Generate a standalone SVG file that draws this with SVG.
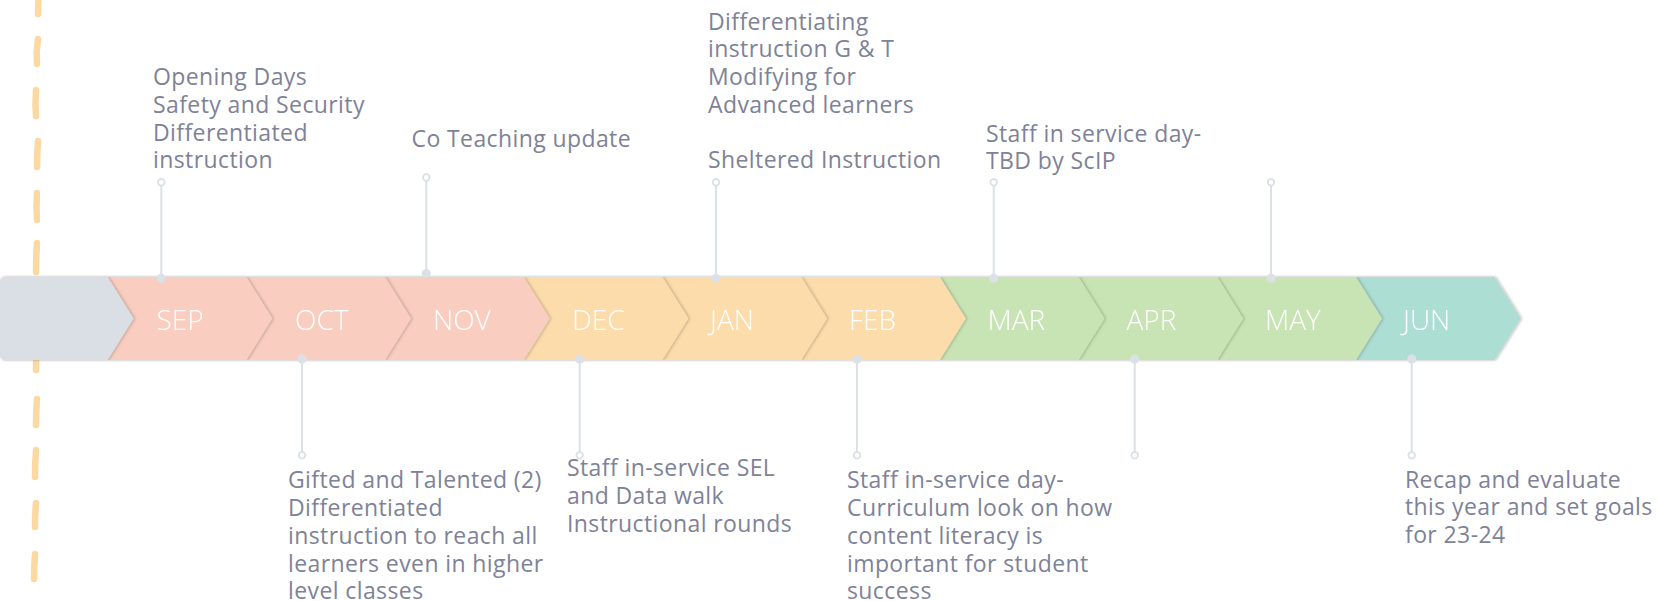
<svg xmlns="http://www.w3.org/2000/svg" width="1659" height="601" viewBox="0 0 1659 601">
<defs>
<filter id="sh" x="-10%" y="-20%" width="130%" height="140%"><feDropShadow dx="1.5" dy="0" stdDeviation="1.4" flood-color="#000" flood-opacity="0.22"/></filter>
<filter id="halo" x="-2%" y="-20%" width="104%" height="140%"><feDropShadow dx="0" dy="0" stdDeviation="1.2" flood-color="#000" flood-opacity="0.12"/></filter>
</defs>
<style>
.note{font-family:"Open Sans","Noto Sans",sans-serif;font-size:23px;letter-spacing:0.4px;fill:#7E8297}
.mon{font-family:"Open Sans","Noto Sans",sans-serif;font-size:28px;font-weight:300;fill:#FFFFFF}
.dash{fill:none;stroke:#FCD9A0;stroke-width:6.5;stroke-linecap:round}
.ln{stroke:#DCE0E7;stroke-width:2;fill:none}
.ring{fill:#FFFFFF;stroke:#DCE0E7;stroke-width:1.8}
.dot{fill:#DCE0E7}
.c0{fill:#D9DFE5}.c1{fill:#F9CEC0}.c2{fill:#FCDCAA}.c3{fill:#C9E4B4}.c4{fill:#ADDED3}
</style>
<g id="dashed-line">
<path class="dash" d="M39,-12 Q38,2 38,14"/>
<path class="dash" d="M38,39 Q36,52 37,64"/>
<path class="dash" d="M36,90 Q35,104 36,116"/>
<path class="dash" d="M38,141 Q37,155 37,167"/>
<path class="dash" d="M37,193 Q36,207 37,220"/>
<path class="dash" d="M37,243 Q36,258 36,272"/>
<path class="dash" d="M37,295 Q36,308 36,321"/>
<path class="dash" d="M37,346 Q36,358 36,370"/>
<path class="dash" d="M37,399 Q36,412 36,425"/>
<path class="dash" d="M36,450 Q35,464 35,477"/>
<path class="dash" d="M36,503 Q35,515 35,527"/>
<path class="dash" d="M35,554 Q34,567 34,579"/>
</g>
<g id="band" filter="url(#halo)">
<g id="jun" filter="url(#sh)"><path class="c4" d="M1355.8,277 L1494.5,277 L1520.5,318.5 L1494.5,360 L1355.8,360 L1381.8,318.5 Z"/><text class="mon" x="1403" y="329.5">JUN</text></g>
<g id="may" filter="url(#sh)"><path class="c3" d="M1217.1,277 L1355.8,277 L1381.8,318.5 L1355.8,360 L1217.1,360 L1243.1,318.5 Z"/><text class="mon" x="1265" y="329.5">MAY</text></g>
<g id="apr" filter="url(#sh)"><path class="c3" d="M1078.4,277 L1217.1,277 L1243.1,318.5 L1217.1,360 L1078.4,360 L1104.4,318.5 Z"/><text class="mon" x="1126.5" y="329.5">APR</text></g>
<g id="mar" filter="url(#sh)"><path class="c3" d="M939.7,277 L1078.4,277 L1104.4,318.5 L1078.4,360 L939.7,360 L965.7,318.5 Z"/><text class="mon" x="987.5" y="329.5">MAR</text></g>
<g id="feb" filter="url(#sh)"><path class="c2" d="M801,277 L939.7,277 L965.7,318.5 L939.7,360 L801,360 L827,318.5 Z"/><text class="mon" x="849" y="329.5">FEB</text></g>
<g id="jan" filter="url(#sh)"><path class="c2" d="M662.3,277 L801,277 L827,318.5 L801,360 L662.3,360 L688.3,318.5 Z"/><text class="mon" x="710" y="329.5">JAN</text></g>
<g id="dec" filter="url(#sh)"><path class="c2" d="M523.6,277 L662.3,277 L688.3,318.5 L662.3,360 L523.6,360 L549.6,318.5 Z"/><text class="mon" x="572" y="329.5">DEC</text></g>
<g id="nov" filter="url(#sh)"><path class="c1" d="M384.9,277 L523.6,277 L549.6,318.5 L523.6,360 L384.9,360 L410.9,318.5 Z"/><text class="mon" x="433" y="329.5">NOV</text></g>
<g id="oct" filter="url(#sh)"><path class="c1" d="M246.2,277 L384.9,277 L410.9,318.5 L384.9,360 L246.2,360 L272.2,318.5 Z"/><text class="mon" x="295" y="329.5">OCT</text></g>
<g id="sep" filter="url(#sh)"><path class="c1" d="M107.5,277 L246.2,277 L272.2,318.5 L246.2,360 L107.5,360 L133.5,318.5 Z"/><text class="mon" x="156.5" y="329.5">SEP</text></g>
<g id="start" filter="url(#sh)"><path class="c0" d="M5,277 L107.5,277 L133.5,318.5 L107.5,360 L5,360 Q0,360 0,355 L0,282 Q0,277 5,277 Z"/></g>
</g>
<g id="connectors">
<line class="ln" x1="161.3" y1="185" x2="161.3" y2="278"/><circle class="dot" cx="161.3" cy="278.3" r="4.5"/><circle class="ring" cx="161.3" cy="182.3" r="3.3"/>
<line class="ln" x1="426.3" y1="180" x2="426.3" y2="273"/><circle class="dot" cx="426.3" cy="273.5" r="4.5"/><circle class="ring" cx="426.3" cy="177.5" r="3.3"/>
<line class="ln" x1="716" y1="185" x2="716" y2="278"/><circle class="dot" cx="716" cy="278.3" r="4.5"/><circle class="ring" cx="716" cy="182.3" r="3.3"/>
<line class="ln" x1="993.7" y1="185" x2="993.7" y2="278"/><circle class="dot" cx="993.7" cy="278.3" r="4.5"/><circle class="ring" cx="993.7" cy="182.3" r="3.3"/>
<line class="ln" x1="1271" y1="185" x2="1271" y2="278"/><circle class="dot" cx="1271" cy="278.3" r="4.5"/><circle class="ring" cx="1271" cy="182.3" r="3.3"/>
<line class="ln" x1="302" y1="359" x2="302" y2="452"/><circle class="dot" cx="302" cy="359" r="4.5"/><circle class="ring" cx="302" cy="455.3" r="3.3"/>
<line class="ln" x1="579.7" y1="359" x2="579.7" y2="452"/><circle class="dot" cx="579.7" cy="359" r="4.5"/><circle class="ring" cx="579.7" cy="455.3" r="3.3"/>
<line class="ln" x1="857" y1="359" x2="857" y2="452"/><circle class="dot" cx="857" cy="359" r="4.5"/><circle class="ring" cx="857" cy="455.3" r="3.3"/>
<line class="ln" x1="1134.7" y1="359" x2="1134.7" y2="452"/><circle class="dot" cx="1134.7" cy="359" r="4.5"/><circle class="ring" cx="1134.7" cy="455.3" r="3.3"/>
<line class="ln" x1="1411.7" y1="359" x2="1411.7" y2="452"/><circle class="dot" cx="1411.7" cy="359" r="4.5"/><circle class="ring" cx="1411.7" cy="455.3" r="3.3"/>
</g>
<g id="note-sep"><text class="note" x="153" y="85">Opening Days</text><text class="note" x="153" y="112.7">Safety and Security</text><text class="note" x="153" y="140.5">Differentiated</text><text class="note" x="153" y="168.3">instruction</text></g>
<g id="note-nov"><text class="note" x="411.5" y="146.7">Co Teaching update</text></g>
<g id="note-jan"><text class="note" x="708" y="29.5">Differentiating</text><text class="note" x="708" y="57.3">instruction G &amp; T</text><text class="note" x="708" y="85">Modifying for</text><text class="note" x="708" y="112.8">Advanced learners</text><text class="note" x="708" y="168.3">Sheltered Instruction</text></g>
<g id="note-mar"><text class="note" x="986" y="141.7">Staff in service day-</text><text class="note" x="986" y="169.3">TBD by ScIP</text></g>
<g id="note-oct"><text class="note" x="288" y="488.3">Gifted and Talented (2)</text><text class="note" x="288" y="516">Differentiated</text><text class="note" x="288" y="543.8">instruction to reach all</text><text class="note" x="288" y="571.5">learners even in higher</text><text class="note" x="288" y="599.3">level classes</text></g>
<g id="note-dec"><text class="note" x="567" y="476">Staff in-service SEL</text><text class="note" x="567" y="503.8">and Data walk</text><text class="note" x="567" y="531.5">Instructional rounds</text></g>
<g id="note-feb"><text class="note" x="847" y="488.3">Staff in-service day-</text><text class="note" x="847" y="516">Curriculum look on how</text><text class="note" x="847" y="543.8">content literacy is</text><text class="note" x="847" y="571.5">important for student</text><text class="note" x="847" y="599.3">success</text></g>
<g id="note-jun"><text class="note" x="1405" y="487.5">Recap and evaluate</text><text class="note" x="1405" y="515.2">this year and set goals</text><text class="note" x="1405" y="543">for 23-24</text></g>
</svg>
